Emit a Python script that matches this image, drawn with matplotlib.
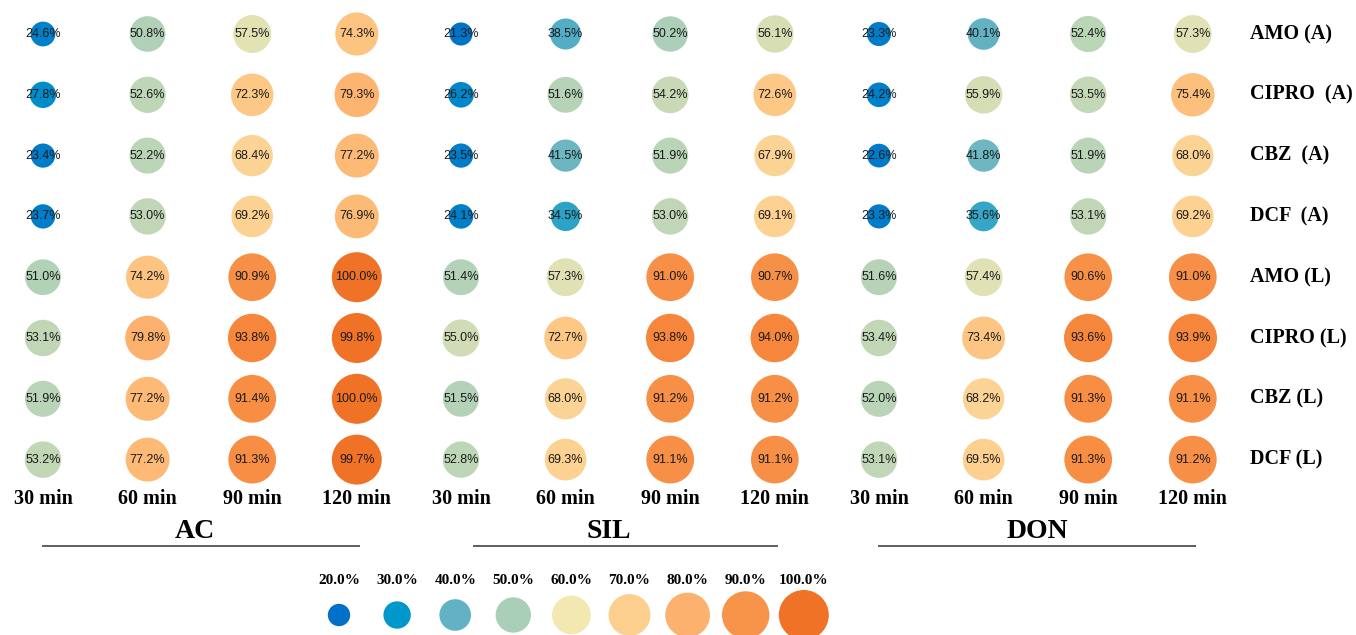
import numpy as np
import matplotlib
matplotlib.use("Agg")
import matplotlib.pyplot as plt
from matplotlib.colors import LinearSegmentedColormap

# ---- data -------------------------------------------------------------
compounds = ["AMO (A)", "CIPRO  (A)", "CBZ  (A)", "DCF  (A)",
             "AMO (L)", "CIPRO (L)", "CBZ (L)", "DCF (L)"]
times = ["30 min", "60 min", "90 min", "120 min"]
materials = ["AC", "SIL", "DON"]

# removal (%) per compound (rows) and contact time (columns)
ac_values = [
    [24.6, 50.8, 57.5, 74.3],
    [27.8, 52.6, 72.3, 79.3],
    [23.4, 52.2, 68.4, 77.2],
    [23.7, 53.0, 69.2, 76.9],
    [51.0, 74.2, 90.9, 100.0],
    [53.1, 79.8, 93.8, 99.8],
    [51.9, 77.2, 91.4, 100.0],
    [53.2, 77.2, 91.3, 99.7],
]
sil_values = [
    [21.3, 38.5, 50.2, 56.1],
    [26.2, 51.6, 54.2, 72.6],
    [23.5, 41.5, 51.9, 67.9],
    [24.1, 34.5, 53.0, 69.1],
    [51.4, 57.3, 91.0, 90.7],
    [55.0, 72.7, 93.8, 94.0],
    [51.5, 68.0, 91.2, 91.2],
    [52.8, 69.3, 91.1, 91.1],
]
don_values = [
    [23.3, 40.1, 52.4, 57.3],
    [24.2, 55.9, 53.5, 75.4],
    [22.6, 41.8, 51.9, 68.0],
    [23.3, 35.6, 53.1, 69.2],
    [51.6, 57.4, 90.6, 91.0],
    [53.4, 73.4, 93.6, 93.9],
    [52.0, 68.2, 91.3, 91.1],
    [53.1, 69.5, 91.3, 91.2],
]
legend_levels = [20, 30, 40, 50, 60, 70, 80, 90, 100]
legend_colors = ["#0070C8", "#0097CA", "#62B2C4", "#AACFB8", "#F4E8B2",
                 "#FDCF8E", "#FCB26E", "#F8934A", "#F07226"]

# ---- styling ----------------------------------------------------------
W, H, DPI = 1356, 635, 100
cmap = LinearSegmentedColormap.from_list(
    "removal", list(zip(np.linspace(0, 1, len(legend_colors)), legend_colors)))
vmin, vmax = legend_levels[0], legend_levels[-1]

serif = ["Liberation Serif", "DejaVu Serif"]
sans = ["Liberation Sans", "DejaVu Sans"]


def marker_area(v):
    # circle area proportional to the value; diameter in pixels = 5*sqrt(v)
    d_px = 5.0 * np.sqrt(np.asarray(v, dtype=float))
    return (d_px * 72.0 / DPI) ** 2


def colour(v):
    return cmap((np.asarray(v, dtype=float) - vmin) / (vmax - vmin))


fig = plt.figure(figsize=(W / DPI, H / DPI), dpi=DPI)
ax = fig.add_axes([0, 0, 1, 1])
ax.set_xlim(0, W)
ax.set_ylim(H, 0)
ax.axis("off")

# grid layout (pixel units)
x0, col_step, group_step = 43.0, 104.6, 418.0
y0, row_step = 34.0, 60.8
line_inset = [0, 13, 0]          # left inset of each underline
title_shift = [-6, -17, 0]       # horizontal nudge of each material name

groups = [ac_values, sil_values, don_values]
for g, (name, vals) in enumerate(zip(materials, groups)):
    vals = np.asarray(vals)
    cols = x0 + g * group_step + col_step * np.arange(len(times))
    rows = y0 + row_step * np.arange(len(compounds))
    xx, yy = np.meshgrid(cols, rows)
    ax.scatter(xx.ravel(), yy.ravel(), s=marker_area(vals.ravel()),
               c=colour(vals.ravel()), linewidths=0, zorder=2)
    for r in range(vals.shape[0]):
        for c in range(vals.shape[1]):
            ax.text(cols[c], rows[r], f"{vals[r, c]:.1f}%", ha="center",
                    va="center", fontsize=9, family=sans, color="#1a1a1a",
                    zorder=3)
    # time labels under each column
    for c, t in enumerate(times):
        ax.text(cols[c], 499, t, ha="center", va="center", fontsize=14.5,
                family=serif, fontweight="bold", color="black")
    # material name with underline
    left, right = cols[0] - 1 + line_inset[g], cols[-1] + 3
    ax.text((left + right) / 2 + title_shift[g], 531, name, ha="center",
            va="center", fontsize=20, family=serif, fontweight="bold",
            color="black")
    ax.plot([left, right], [546, 546], color="#333333", lw=1.1,
            solid_capstyle="butt")

# compound labels on the right
label_x = x0 + 2 * group_step + col_step * (len(times) - 1) + 57
for r, name in enumerate(compounds):
    ax.text(label_x, y0 + row_step * r, name, ha="left", va="center",
            fontsize=14.5, family=serif, fontweight="bold", color="black")

# size / colour key
lx0, lstep = 339.0, 58.1
lx = lx0 + lstep * np.arange(len(legend_levels))
ax.scatter(lx, np.full(len(lx), 615.0), s=marker_area(legend_levels),
           c=legend_colors, linewidths=0, zorder=2)
for x, lev in zip(lx, legend_levels):
    ax.text(x, 580, f"{lev:.1f}%", ha="center", va="center", fontsize=11,
            family=serif, fontweight="bold", color="black")

fig.savefig("out.png", dpi=DPI, facecolor="white")
